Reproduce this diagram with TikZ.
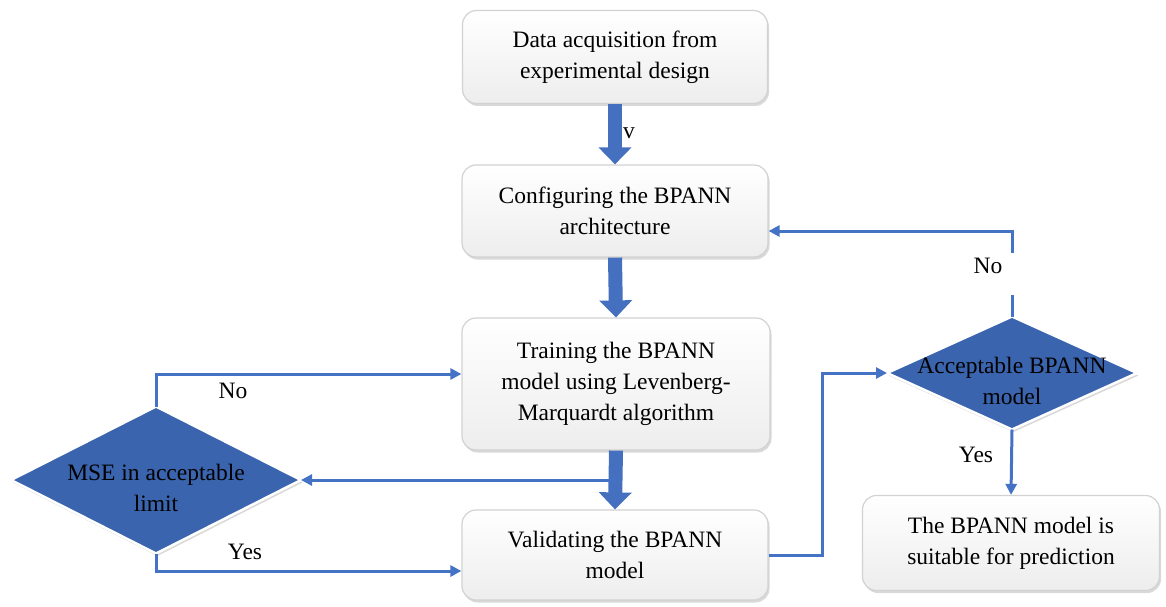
\documentclass[tikz,border=0pt]{standalone}
\usepackage{fontspec}
\setmainfont{Liberation Serif}
\usetikzlibrary{shapes.geometric,arrows.meta,shadows,calc}
\definecolor{lineblue}{HTML}{4472C4}
\definecolor{diablue}{HTML}{3A64AD}
\definecolor{fatblue}{HTML}{4470BF}
\newcommand\mytxt{\fontsize{23.5}{31}\selectfont}
\begin{document}
\begin{tikzpicture}[x=1pt,y=-1pt,
  box/.style={rectangle, rounded corners=14pt, draw=gray!35, line width=1.2pt,
    top color=white, bottom color=gray!14,
    drop shadow={opacity=0.3, shadow xshift=1.5pt, shadow yshift=-2.5pt},
    align=center, font=\mytxt, inner sep=0pt},
  dia/.style={diamond, draw=white, line width=2.5pt, fill=diablue,
    drop shadow={opacity=0.3, shadow xshift=1.5pt, shadow yshift=-2.5pt},
    inner sep=0pt, outer sep=0pt},
  diatext/.style={align=center, font=\mytxt, inner sep=0pt},
  fat/.style={fatblue, line width=14pt, -{Triangle[length=17pt,width=32pt]}},
  conn/.style={lineblue, line width=3pt, -{Triangle[length=11pt,width=11pt]}},
  plain/.style={lineblue, line width=3pt},
  lab/.style={font=\mytxt, inner sep=0pt}]
\useasboundingbox (0,0) rectangle (1166,607);

\node[box, minimum width=305pt, minimum height=93pt] (b1) at (615,57) {Data acquisition from\\experimental design};
\node[box, minimum width=306pt, minimum height=92pt] (b2) at (615,211) {Configuring the BPANN\\architecture};
\node[box, minimum width=308pt, minimum height=132pt] (b3) at (616,384) {Training the BPANN\\model using Levenberg-\\Marquardt algorithm};
\node[box, minimum width=306pt, minimum height=90pt] (b4) at (615,555) {Validating the BPANN\\model};
\node[box, minimum width=297pt, minimum height=95pt] (b5) at (1011,543) {The BPANN model is\\suitable for prediction};

\node[dia, minimum width=290pt, minimum height=147pt] (d1) at (156,480) {};
\node[diatext] (t1) at ([yshift=-8pt]d1.center) {MSE in acceptable\\limit};
\node[dia, minimum width=250pt, minimum height=113pt] (d2) at (1012,373) {};
\node[diatext] (t2) at ([yshift=-8pt]d2.center) {Acceptable BPANN\\model};

% fat arrows
\draw[fat] (b1.south) -- (b2.north);
\draw[fat] (b2.south) -- (b3.north);
\draw[fat] (b3.south) -- (b4.north);

% connectors
\draw[conn] (d1.east -| b3.south) -- (d1.east);
\draw[conn] (d1.north) |- ([yshift=10pt]b3.west);
\draw[conn] (d1.south) |- ([yshift=-16pt]b4.west);
\draw[conn] (b4.east) -- ++(54,0) |- (d2.west);
\draw[conn] (d2.south) -- (b5.north);
\coordinate (g1) at (1012,295);
\coordinate (g2) at (1012,253);
\draw[plain] (d2.north) -- (g1);
\draw[conn] (g2) |- ([yshift=-20pt]b2.east);

% labels
\node[lab] (lv) at (629,133) {v};
\node[lab] (ln1) at (233,391) {No};
\node[lab] (ly1) at (245,552) {Yes};
\node[lab] (ln2) at (988,266) {No};
\node[lab] (ly2) at (976,455) {Yes};
\end{tikzpicture}
\end{document}
